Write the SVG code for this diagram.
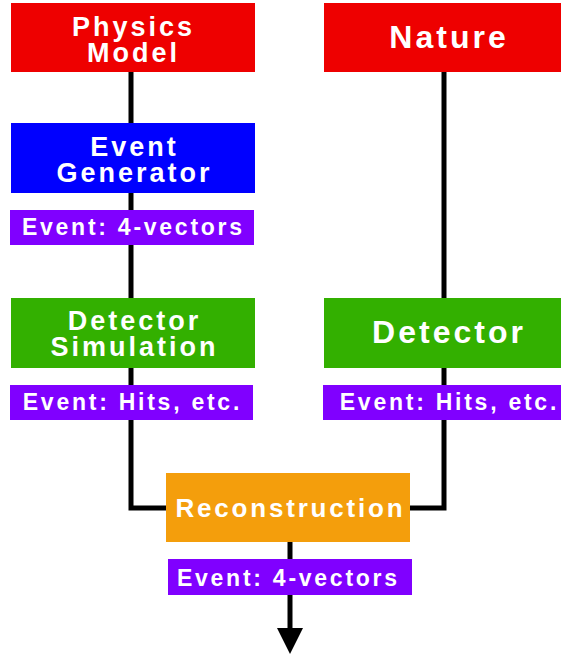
<svg xmlns="http://www.w3.org/2000/svg" width="561" height="655" viewBox="0 0 561 655">
<defs>
<style>
.t{font-family:"Liberation Sans",Arial,sans-serif;font-weight:bold;fill:#fff;text-anchor:middle}
.big{font-size:32px;letter-spacing:3px}
.mid{font-size:27px;letter-spacing:3px}
.rec{font-size:26px;letter-spacing:2.8px}
.lab{font-size:23px;letter-spacing:2.75px}
.red{fill:#EE0000}
.blue{fill:#0000FF}
.green{fill:#33B000}
.purple{fill:#8000FF}
.orange{fill:#F49E0C}
.wire{fill:none;stroke:#000;stroke-width:5}
</style>
</defs>
<g id="connectors">
<path class="wire" d="M131,72 V508 H166"/>
<path class="wire" d="M444,72 V508 H410"/>
<line class="wire" x1="290" y1="542" x2="290" y2="632"/>
<path d="M277,628 L303,628 L290,654 Z" fill="#000"/>
</g>
<g id="physics-model">
<rect class="red" x="11" y="3" width="244" height="69"/>
<text class="t mid" x="133.5" y="36">Physics</text>
<text class="t mid" x="133.5" y="62">Model</text>
</g>
<g id="nature">
<rect class="red" x="324" y="3" width="244" height="69"/>
<text class="t big" x="449" y="48">Nature</text>
</g>
<g id="event-generator">
<rect class="blue" x="11" y="123" width="244" height="70"/>
<text class="t mid" x="134.5" y="156">Event</text>
<text class="t mid" x="134.5" y="182">Generator</text>
</g>
<g id="label-4vectors-top">
<rect class="purple" x="10" y="210" width="244" height="35"/>
<text class="t lab" x="133.4" y="235">Event: 4-vectors</text>
</g>
<g id="detector-simulation">
<rect class="green" x="11" y="298" width="244" height="70"/>
<text class="t mid" x="134.5" y="330">Detector</text>
<text class="t mid" x="134.5" y="356">Simulation</text>
</g>
<g id="detector">
<rect class="green" x="324" y="298" width="244" height="70"/>
<text class="t big" x="449" y="343">Detector</text>
</g>
<g id="label-hits-left">
<rect class="purple" x="10" y="385" width="243" height="35"/>
<text class="t lab" x="132.4" y="410">Event: Hits, etc.</text>
</g>
<g id="label-hits-right">
<rect class="purple" x="323" y="385" width="244" height="35"/>
<text class="t lab" x="449.4" y="410">Event: Hits, etc.</text>
</g>
<g id="reconstruction">
<rect class="orange" x="166" y="473" width="244" height="69"/>
<text class="t rec" x="290.4" y="517">Reconstruction</text>
</g>
<g id="label-4vectors-bottom">
<rect class="purple" x="168" y="559" width="244" height="36"/>
<text class="t lab" x="288.4" y="586">Event: 4-vectors</text>
</g>
</svg>
